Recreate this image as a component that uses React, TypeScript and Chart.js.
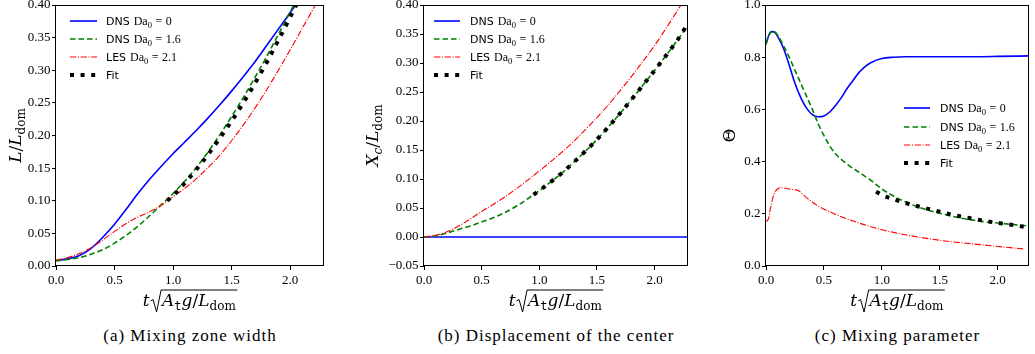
import React, { useEffect, useRef } from "react";
import { Chart, registerables } from "chart.js";

Chart.register(...registerables);

// ---------------- shared ----------------
const X_TICKS = [0, 0.5, 1.0, 1.5, 2.0];
const LEGEND_KIND = ["DNS", "DNS", "LES", "Fit"];
const LEGEND_DA = ["0", "1.6", "2.1", ""];

// ---------------- (a) Mixing zone width ----------------
const A_Y_TICKS = [0, 0.05, 0.1, 0.15, 0.2, 0.25, 0.3, 0.35, 0.4];
const A_DNS0_T = [0, 0.1, 0.2, 0.3, 0.4, 0.5, 0.6, 0.7, 0.8, 0.9, 1.0, 1.1, 1.2, 1.3, 1.4, 1.5, 1.6, 1.7, 1.8, 1.9, 2.0, 2.08];
const A_DNS0 = [0.008, 0.011, 0.016, 0.027, 0.044, 0.064, 0.087, 0.111, 0.133, 0.153, 0.172, 0.19, 0.208, 0.227, 0.247, 0.268, 0.29, 0.313, 0.338, 0.363, 0.388, 0.408];
const A_DNS16_T = [0, 0.1, 0.2, 0.3, 0.4, 0.5, 0.6, 0.7, 0.8, 0.9, 1.0, 1.1, 1.2, 1.3, 1.4, 1.5, 1.6, 1.7, 1.8, 1.9, 2.0, 2.1];
const A_DNS16 = [0.008, 0.01, 0.013, 0.018, 0.025, 0.035, 0.047, 0.061, 0.077, 0.094, 0.111, 0.13, 0.151, 0.175, 0.201, 0.229, 0.258, 0.289, 0.321, 0.355, 0.389, 0.424];
const A_LES_T = [0, 0.1, 0.2, 0.3, 0.4, 0.5, 0.6, 0.7, 0.8, 0.9, 1.0, 1.1, 1.2, 1.3, 1.4, 1.5, 1.6, 1.7, 1.8, 1.9, 2.0, 2.1, 2.2, 2.25];
const A_LES = [0.009, 0.013, 0.019, 0.028, 0.04, 0.053, 0.065, 0.075, 0.083, 0.093, 0.106, 0.119, 0.134, 0.151, 0.17, 0.192, 0.216, 0.242, 0.27, 0.3, 0.331, 0.363, 0.395, 0.412];
const A_FIT_T = [0.95, 1.0, 1.1, 1.2, 1.3, 1.4, 1.5, 1.6, 1.7, 1.8, 1.9, 2.0, 2.08];
const A_FIT = [0.1, 0.108, 0.127, 0.148, 0.171, 0.196, 0.222, 0.25, 0.28, 0.312, 0.346, 0.381, 0.41];

// ---------------- (b) Displacement of the center ----------------
const B_Y_TICKS = [-0.05, 0, 0.05, 0.1, 0.15, 0.2, 0.25, 0.3, 0.35, 0.4];
const B_DNS0_T = [0, 0.5, 1.0, 1.5, 2.0, 2.3];
const B_DNS0 = [0, 0, 0, 0, 0, 0];
const B_DNS16_T = [0, 0.1, 0.2, 0.3, 0.4, 0.5, 0.6, 0.7, 0.8, 0.9, 1.0, 1.1, 1.2, 1.3, 1.4, 1.5, 1.6, 1.7, 1.8, 1.9, 2.0, 2.1, 2.2, 2.3];
const B_DNS16 = [0, 0.002, 0.007, 0.013, 0.019, 0.026, 0.033, 0.042, 0.053, 0.066, 0.08, 0.095, 0.111, 0.129, 0.148, 0.168, 0.19, 0.213, 0.237, 0.262, 0.287, 0.313, 0.34, 0.368];
const B_LES_T = [0, 0.1, 0.2, 0.3, 0.4, 0.5, 0.6, 0.7, 0.8, 0.9, 1.0, 1.1, 1.2, 1.3, 1.4, 1.5, 1.6, 1.7, 1.8, 1.9, 2.0, 2.1, 2.2, 2.25];
const B_LES = [0, 0.003, 0.009, 0.019, 0.031, 0.044, 0.056, 0.069, 0.083, 0.098, 0.114, 0.13, 0.147, 0.165, 0.185, 0.206, 0.228, 0.252, 0.277, 0.303, 0.33, 0.36, 0.391, 0.407];
const B_FIT_T = [0.95, 1.0, 1.1, 1.2, 1.3, 1.4, 1.5, 1.6, 1.7, 1.8, 1.9, 2.0, 2.1, 2.2, 2.28];
const B_FIT = [0.073, 0.08, 0.095, 0.111, 0.129, 0.148, 0.168, 0.19, 0.213, 0.237, 0.262, 0.287, 0.313, 0.34, 0.365];

// ---------------- (c) Mixing parameter ----------------
const C_Y_TICKS = [0, 0.2, 0.4, 0.6, 0.8, 1.0];
const C_DNS0_T = [0, 0.025, 0.05, 0.075, 0.1, 0.15, 0.2, 0.25, 0.3, 0.35, 0.4, 0.45, 0.5, 0.55, 0.6, 0.65, 0.7, 0.75, 0.8, 0.85, 0.9, 1.0, 1.1, 1.2, 1.5, 1.8, 2.0, 2.27];
const C_DNS0 = [0.85, 0.885, 0.898, 0.895, 0.88, 0.835, 0.77, 0.7, 0.645, 0.605, 0.58, 0.572, 0.575, 0.59, 0.615, 0.645, 0.68, 0.71, 0.74, 0.762, 0.778, 0.795, 0.8, 0.802, 0.802, 0.802, 0.803, 0.805];
const C_DNS16_T = [0, 0.025, 0.05, 0.075, 0.1, 0.15, 0.2, 0.25, 0.3, 0.35, 0.4, 0.45, 0.5, 0.55, 0.6, 0.7, 0.8, 0.9, 1.0, 1.1, 1.2, 1.3, 1.4, 1.5, 1.6, 1.7, 1.8, 1.9, 2.0, 2.1, 2.2, 2.27];
const C_DNS16 = [0.85, 0.885, 0.898, 0.897, 0.885, 0.845, 0.8, 0.75, 0.7, 0.65, 0.6, 0.545, 0.5, 0.46, 0.43, 0.39, 0.36, 0.33, 0.295, 0.268, 0.246, 0.228, 0.214, 0.202, 0.191, 0.182, 0.175, 0.169, 0.165, 0.16, 0.156, 0.153];
const C_LES_T = [0, 0.02, 0.04, 0.06, 0.08, 0.1, 0.13, 0.2, 0.28, 0.35, 0.45, 0.6, 0.8, 1.0, 1.2, 1.4, 1.6, 1.8, 2.0, 2.23];
const C_LES = [0.17, 0.18, 0.225, 0.262, 0.285, 0.295, 0.3, 0.295, 0.288, 0.262, 0.23, 0.198, 0.165, 0.139, 0.12, 0.105, 0.093, 0.084, 0.075, 0.065];
const C_FIT_T = [0.95, 1.0, 1.1, 1.2, 1.3, 1.4, 1.5, 1.6, 1.7, 1.8, 1.9, 2.0, 2.1, 2.23];
const C_FIT = [0.285, 0.272, 0.256, 0.242, 0.23, 0.219, 0.208, 0.197, 0.188, 0.18, 0.172, 0.165, 0.159, 0.15];

// ---------------- styles ----------------
const STYLES = [
  { color: "#0000ff", width: 1.6, dash: [] as number[] },
  { color: "#008000", width: 1.6, dash: [5.5, 3] },
  { color: "#ff0000", width: 1.1, dash: [6.4, 1.6, 1, 1.6] },
  { color: "#000000", width: 4, dash: [4, 6.6] },
];

const CW = 345;
const CH = 318;
const PLOT_TOP = 5;
const PLOT_BOTTOM = 266;
const SERIF = "'Liberation Serif', 'DejaVu Serif', serif";
const TICK_FONT = { family: SERIF, size: 13 };

const M_IT = "italic 17px 'DejaVu Serif', serif";
const M_RM = "17px 'DejaVu Serif', serif";
const M_SUB = "12px 'DejaVu Serif', serif";
const M_SUB_IT = "italic 12px 'DejaVu Serif', serif";
const M_SUB_TT = "12px 'DejaVu Sans Mono', monospace";

type Seg = [string, string, number?];

const Y_TITLES: Record<string, Seg[]> = {
  L: [["L", M_IT], ["/", M_RM], ["L", M_IT], ["dom", M_SUB, 4]],
  X: [["X", M_IT], ["c", M_SUB_IT, 4], ["/", M_RM], ["L", M_IT], ["dom", M_SUB, 4]],
  T: [["\u0398", M_RM]],
};

const X_INNER: Seg[] = [["A", M_IT], ["t", M_SUB_TT, 4], ["g", M_IT], ["/", M_RM], ["L", M_IT], ["dom", M_SUB, 4]];

interface Legend { x0: number; x1: number; tx: number; rows: number[] }
interface PanelCfg {
  left: number; plotLeft: number; plotRight: number; xMax: number;
  yMin: number; yMax: number; yTicks: number[]; yDec: number;
  series: { t: number[]; v: number[] }[];
  legend: Legend; yTitle: string; yTitleX: number; caption: string;
}

const PANELS: PanelCfg[] = [
  {
    left: 0, plotLeft: 56, plotRight: 324, xMax: 2.29, yMin: 0, yMax: 0.4, yTicks: A_Y_TICKS, yDec: 2,
    series: [{ t: A_DNS0_T, v: A_DNS0 }, { t: A_DNS16_T, v: A_DNS16 }, { t: A_LES_T, v: A_LES }, { t: A_FIT_T, v: A_FIT }],
    legend: { x0: 70, x1: 97, tx: 106, rows: [21, 39, 57, 75] }, yTitle: "L", yTitleX: 15,
    caption: "(a) Mixing zone width",
  },
  {
    left: 345, plotLeft: 79, plotRight: 343, xMax: 2.29, yMin: -0.05, yMax: 0.4, yTicks: B_Y_TICKS, yDec: 2,
    series: [{ t: B_DNS0_T, v: B_DNS0 }, { t: B_DNS16_T, v: B_DNS16 }, { t: B_LES_T, v: B_LES }, { t: B_FIT_T, v: B_FIT }],
    legend: { x0: 89, x1: 115, tx: 125, rows: [21, 39, 57, 75] }, yTitle: "X", yTitleX: 27,
    caption: "(b) Displacement of the center",
  },
  {
    left: 690, plotLeft: 76, plotRight: 339, xMax: 2.27, yMin: 0, yMax: 1.0, yTicks: C_Y_TICKS, yDec: 1,
    series: [{ t: C_DNS0_T, v: C_DNS0 }, { t: C_DNS16_T, v: C_DNS16 }, { t: C_LES_T, v: C_LES }, { t: C_FIT_T, v: C_FIT }],
    legend: { x0: 214, x1: 240, tx: 250, rows: [108, 127, 145, 163] }, yTitle: "T", yTitleX: 39,
    caption: "(c) Mixing parameter",
  },
];

function segsWidth(ctx: CanvasRenderingContext2D, segs: Seg[]) {
  let w = 0;
  for (const [s, f] of segs) { ctx.font = f; w += ctx.measureText(s).width; }
  return w;
}
function drawSegs(ctx: CanvasRenderingContext2D, segs: Seg[], x: number, y: number) {
  for (const [s, f, dy] of segs) {
    ctx.font = f;
    ctx.fillText(s, x, y + (dy || 0));
    x += ctx.measureText(s).width;
  }
  return x;
}

function fmt(v: number, dec: number) {
  const s = Math.abs(v).toFixed(dec);
  return v < -1e-9 ? "\u2212" + s : s;
}

function overlayPlugin(cfg: PanelCfg) {
  return {
    id: "overlay",
    afterDraw(chart: any) {
      const ctx: CanvasRenderingContext2D = chart.ctx;
      const { left, top, right, bottom } = chart.chartArea;
      ctx.save();
      // frame
      ctx.strokeStyle = "#000";
      ctx.lineWidth = 1;
      ctx.setLineDash([]);
      ctx.strokeRect(Math.round(left) - 0.5, Math.round(top) + 0.5, Math.round(right - left), Math.round(bottom - top) - 1);

      // legend
      const L = cfg.legend;
      L.rows.forEach((ry, i) => {
        const st = STYLES[i];
        ctx.save();
        ctx.strokeStyle = st.color;
        ctx.lineWidth = st.width;
        ctx.setLineDash(st.dash);
        ctx.lineCap = "butt";
        ctx.beginPath();
        ctx.moveTo(L.x0, ry);
        ctx.lineTo(L.x1, ry);
        ctx.stroke();
        ctx.restore();
        ctx.fillStyle = "#000";
        ctx.textBaseline = "alphabetic";
        ctx.textAlign = "left";
        const base = ry + 4;
        let x = L.tx;
        ctx.font = "11px 'DejaVu Sans', sans-serif";
        ctx.fillText(LEGEND_KIND[i], x, base);
        x += ctx.measureText(LEGEND_KIND[i]).width + 4;
        if (LEGEND_DA[i]) {
          ctx.font = "12px " + SERIF;
          ctx.fillText("Da", x, base);
          x += ctx.measureText("Da").width;
          ctx.font = "8.5px " + SERIF;
          ctx.fillText("0", x, base + 2.5);
          x += ctx.measureText("0").width + 3.5;
          ctx.font = "12px " + SERIF;
          ctx.fillText("=", x, base);
          x += ctx.measureText("=").width + 3.5;
          ctx.fillText(LEGEND_DA[i], x, base);
        }
      });

      // y title
      ctx.fillStyle = "#000";
      ctx.textAlign = "left";
      ctx.textBaseline = "alphabetic";
      const ySegs = Y_TITLES[cfg.yTitle];
      ctx.save();
      ctx.translate(cfg.yTitleX, (top + bottom) / 2);
      ctx.rotate(-Math.PI / 2);
      const yw = segsWidth(ctx, ySegs);
      drawSegs(ctx, ySegs, -yw / 2, 6);
      ctx.restore();

      // x title: t sqrt(A_t g / L_dom)
      const tSeg: Seg[] = [["t", M_IT]];
      const wt = segsWidth(ctx, tSeg);
      const wi = segsWidth(ctx, X_INNER);
      const radW = 11;
      const total = wt + 1 + radW + wi + 2;
      const cx = (left + right) / 2;
      const yb = 306;
      let x = cx - total / 2;
      x = drawSegs(ctx, tSeg, x, yb) + 1;
      ctx.strokeStyle = "#000";
      ctx.lineWidth = 1;
      ctx.beginPath();
      ctx.moveTo(x, yb - 5);
      ctx.lineTo(x + 2.5, yb - 6.5);
      ctx.lineTo(x + 6, yb + 6);
      ctx.lineTo(x + radW - 0.5, yb - 16);
      ctx.lineTo(x + radW + wi + 2, yb - 16);
      ctx.stroke();
      drawSegs(ctx, X_INNER, x + radW + 0.5, yb);
      ctx.restore();
    },
  };
}

function Panel({ cfg }: { cfg: PanelCfg }) {
  const ref = useRef<HTMLCanvasElement>(null);
  useEffect(() => {
    const canvas = ref.current!;
    const tickGrid = { display: true, drawOnChartArea: false, drawTicks: true, tickLength: 4, color: "#000", lineWidth: 1 };
    const chart = new Chart(canvas, {
      type: "line",
      data: {
        datasets: cfg.series.map((s, i) => ({
          label: LEGEND_KIND[i],
          data: s.t.map((x, j) => ({ x, y: s.v[j] })),
          borderColor: STYLES[i].color,
          borderWidth: STYLES[i].width,
          borderDash: STYLES[i].dash,
          pointRadius: 0,
          fill: false,
          cubicInterpolationMode: "monotone" as const,
          order: 3 - i,
        })),
      },
      options: {
        animation: false,
        responsive: false,
        maintainAspectRatio: false,
        events: [],
        layout: { autoPadding: false, padding: { left: 0, top: PLOT_TOP, right: CW - cfg.plotRight, bottom: 0 } },
        plugins: { legend: { display: false }, tooltip: { enabled: false } },
        scales: {
          x: {
            type: "linear",
            min: 0,
            max: cfg.xMax,
            afterBuildTicks: (s: any) => { s.ticks = X_TICKS.map((value) => ({ value })); },
            afterFit: (s: any) => { s.height = CH - PLOT_BOTTOM; s.paddingLeft = 0; s.paddingRight = 0; },
            ticks: { font: TICK_FONT, color: "#000", padding: 3, maxRotation: 0, autoSkip: false, callback: (v: any) => fmt(Number(v), 1) },
            grid: tickGrid,
            border: { display: false },
          },
          y: {
            type: "linear",
            min: cfg.yMin,
            max: cfg.yMax,
            afterBuildTicks: (s: any) => { s.ticks = cfg.yTicks.map((value) => ({ value })); },
            afterFit: (s: any) => { s.width = cfg.plotLeft; s.paddingTop = 0; s.paddingBottom = 0; },
            ticks: { font: TICK_FONT, color: "#000", padding: 1.5, autoSkip: false, callback: (v: any) => fmt(Number(v), cfg.yDec) },
            grid: tickGrid,
            border: { display: false },
          },
        },
      } as any,
      plugins: [overlayPlugin(cfg)],
    });
    return () => chart.destroy();
  }, [cfg]);
  return (
    <>
      <canvas
        ref={ref}
        width={CW}
        height={CH}
        style={{ position: "absolute", left: cfg.left, top: 0, width: CW, height: CH }}
      />
      <div
        style={{
          position: "absolute",
          left: cfg.left + (cfg.plotLeft + cfg.plotRight) / 2,
          top: 326.5,
          transform: "translateX(-50%)",
          fontFamily: SERIF,
          fontSize: "17px",
          lineHeight: "17px",
          letterSpacing: "1px",
          whiteSpace: "nowrap",
          color: "#000",
        }}
      >
        {cfg.caption}
      </div>
    </>
  );
}

export default function App() {
  return (
    <div style={{ position: "fixed", left: 0, top: 0, width: 1035, height: 354, background: "#fff", overflow: "hidden" }}>
      {PANELS.map((p, i) => (
        <Panel key={i} cfg={p} />
      ))}
    </div>
  );
}
